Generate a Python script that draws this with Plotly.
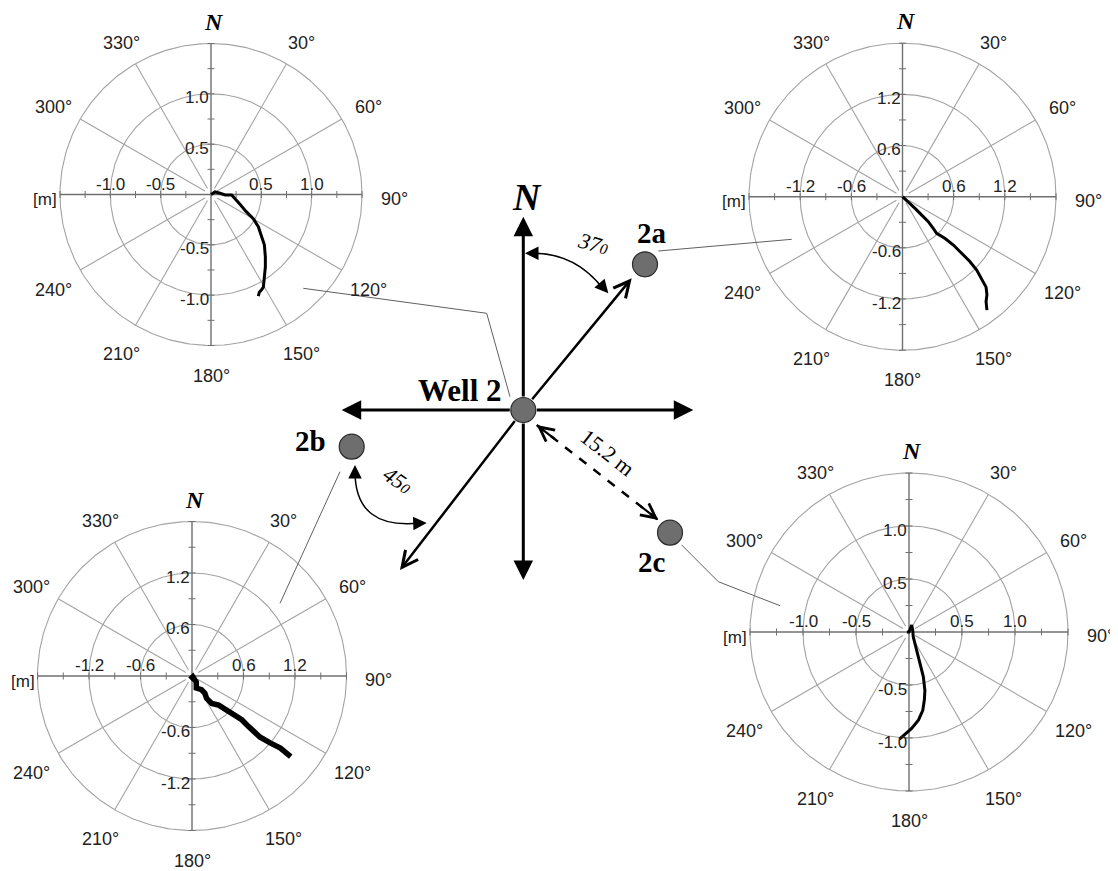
import numpy as np
import plotly.graph_objects as go

# The page body has an 8px margin, so the figure is drawn 8px in from the window edge.
OFF = 8
W, H = 1118 - OFF, 871 - OFF

# ---------------- data (metres; x = East, y = North) ----------------
well2_x = [0.00, 0.04, 0.09, 0.14, 0.205, 0.24, 0.29, 0.35, 0.42, 0.47, 0.50, 0.53, 0.54, 0.54, 0.53, 0.52, 0.50, 0.48, 0.47]
well2_y = [0.00, 0.025, 0.012, -0.005, -0.005, -0.04, -0.10, -0.17, -0.24, -0.32, -0.40, -0.50, -0.62, -0.72, -0.82, -0.92, -0.95, -0.97, -1.01]

well2a_x = [0.0, 0.07, 0.15, 0.22, 0.30, 0.36, 0.40, 0.50, 0.60, 0.69, 0.79, 0.87, 0.93, 0.98, 0.99, 0.98, 0.99]
well2a_y = [0.0, -0.06, -0.14, -0.21, -0.29, -0.37, -0.43, -0.49, -0.57, -0.66, -0.76, -0.86, -0.96, -1.06, -1.15, -1.23, -1.33]

well2b_x = [-0.02, 0.01, 0.05, 0.05, 0.11, 0.15, 0.17, 0.23, 0.31, 0.40, 0.48, 0.58, 0.64, 0.70, 0.79, 0.91, 1.03, 1.15]
well2b_y = [-0.04, -0.01, -0.07, -0.14, -0.16, -0.20, -0.26, -0.32, -0.34, -0.40, -0.45, -0.51, -0.57, -0.63, -0.71, -0.78, -0.84, -0.94]

well2c_x = [-0.02, 0.0, 0.025, 0.035, 0.04, 0.07, 0.10, 0.135, 0.15, 0.145, 0.13, 0.09, 0.025, -0.04, -0.09]
well2c_y = [0.0, 0.0, 0.065, 0.02, -0.045, -0.17, -0.30, -0.42, -0.55, -0.64, -0.74, -0.83, -0.91, -0.97, -1.01]

rings_a = [0.5, 1.0, 1.5]          # ring radii, charts Well 2 and 2c
ticks_a = [-1.0, -0.5, 0.5, 1.0]
ticklabels_a = ["-1.0", "-0.5", "0.5", "1.0"]
rings_b = [0.6, 1.2, 1.8]          # ring radii, charts 2a and 2b
ticks_b = [-1.2, -0.6, 0.6, 1.2]
ticklabels_b = ["-1.2", "-0.6", "0.6", "1.2"]

bearings = [0, 30, 60, 90, 120, 150, 180, 210, 240, 270, 300, 330]
bearing_labels = ["N", "30°", "60°", "90°", "120°", "150°", "180°", "210°", "240°", "[m]", "300°", "330°"]

# ---------------- layout geometry (window pixels) ----------------
charts = [
    dict(x=well2_x, y=well2_y, rings=rings_a, ticks=ticks_a, labels=ticklabels_a,
         cx=211, cy=194.5, rpx=151, box=(8, 430, 8, 400), lw=3),
    dict(x=well2a_x, y=well2a_y, rings=rings_b, ticks=ticks_b, labels=ticklabels_b,
         cx=902.5, cy=196.7, rpx=153.5, box=(690, 1118, 8, 400), lw=3),
    dict(x=well2b_x, y=well2b_y, rings=rings_b, ticks=ticks_b, labels=ticklabels_b,
         cx=192, cy=676, rpx=154.5, box=(8, 400, 470, 871), lw=5.5),
    dict(x=well2c_x, y=well2c_y, rings=rings_a, ticks=ticks_a, labels=ticklabels_a,
         cx=909, cy=632, rpx=159, box=(690, 1118, 440, 871), lw=3),
]

GRID = "#a3a3a3"
AXC = "#707070"
SANS = "Liberation Sans"
SERIF = "Liberation Serif"

fig = go.Figure()
layout = dict(width=W, height=H, margin=dict(l=0, r=0, t=0, b=0),
              paper_bgcolor="white", plot_bgcolor="rgba(0,0,0,0)",
              showlegend=False)
annotations = []
shapes = []

for i, c in enumerate(charts, start=1):
    R = c["rings"][-1]
    s = c["rpx"] / R
    bx0, bx1, by0, by1 = [v - OFF for v in c["box"]]
    cx, cy = c["cx"] - OFF, c["cy"] - OFF
    xr = [(bx0 - cx) / s, (bx1 - cx) / s]
    yr = [(cy - by1) / s, (cy - by0) / s]
    sfx = "" if i == 1 else str(i)
    layout["xaxis" + sfx] = dict(domain=[bx0 / W, bx1 / W], range=xr, visible=False,
                                 anchor="y" + sfx, fixedrange=True)
    layout["yaxis" + sfx] = dict(domain=[1 - by1 / H, 1 - by0 / H], range=yr, visible=False,
                                 anchor="x" + sfx, fixedrange=True)
    xa, ya = "x" + sfx, "y" + sfx

    th = np.linspace(0, 2 * np.pi, 361)
    rx, ry = [], []
    for r in c["rings"]:
        rx += list(r * np.sin(th)) + [None]
        ry += list(r * np.cos(th)) + [None]
    fig.add_trace(go.Scatter(x=rx, y=ry, mode="lines", line=dict(color=GRID, width=1.1),
                             xaxis=xa, yaxis=ya, hoverinfo="skip"))
    r0 = 7 / s
    sx, sy = [], []
    for b in bearings:
        if b % 90 == 0:
            continue
        a = np.radians(b)
        sx += [r0 * np.sin(a), R * np.sin(a), None]
        sy += [r0 * np.cos(a), R * np.cos(a), None]
    fig.add_trace(go.Scatter(x=sx, y=sy, mode="lines", line=dict(color=GRID, width=1.1),
                             xaxis=xa, yaxis=ya, hoverinfo="skip"))
    fig.add_trace(go.Scatter(x=[-R, R, None, 0, 0], y=[0, 0, None, -R, R], mode="lines",
                             line=dict(color=AXC, width=1.4), xaxis=xa, yaxis=ya, hoverinfo="skip"))
    step = c["rings"][0] / 2
    tv = [k * step for k in range(-6, 7) if k != 0]
    fig.add_trace(go.Scatter(x=tv, y=[0] * len(tv), mode="markers",
                             marker=dict(symbol="line-ns", size=5, line=dict(color=AXC, width=1)),
                             xaxis=xa, yaxis=ya, hoverinfo="skip"))
    fig.add_trace(go.Scatter(x=[0] * len(tv), y=tv, mode="markers",
                             marker=dict(symbol="line-ew", size=5, line=dict(color=AXC, width=1)),
                             xaxis=xa, yaxis=ya, hoverinfo="skip"))
    fig.add_trace(go.Scatter(x=c["x"], y=c["y"], mode="lines",
                             line=dict(color="black", width=c["lw"]),
                             xaxis=xa, yaxis=ya, hoverinfo="skip"))
    for v, t in zip(c["ticks"], c["labels"]):
        annotations.append(dict(x=v, y=0, xref=xa, yref=ya, text=t, showarrow=False,
                                xanchor="center", yanchor="bottom", yshift=-1,
                                font=dict(family=SANS, size=17, color="#222")))
        annotations.append(dict(x=0, y=v, xref=xa, yref=ya, text=t, showarrow=False,
                                xanchor="right", yanchor="middle", xshift=0, yshift=-4,
                                font=dict(family=SANS, size=17, color="#222")))
    for b, t in zip(bearings, bearing_labels):
        a = np.radians(b)
        if t == "N":
            rr = R + 25 / s
            annotations.append(dict(x=rr * np.sin(a), y=rr * np.cos(a), xref=xa, yref=ya,
                                    text="<b><i>N</i></b>", showarrow=False, xshift=3, yshift=-3,
                                    font=dict(family=SERIF, size=24, color="black")))
        elif t == "[m]":
            annotations.append(dict(x=-R, y=0, xref=xa, yref=ya, text=t, showarrow=False,
                                    xanchor="right", yanchor="middle", xshift=-1, yshift=-5,
                                    font=dict(family=SANS, size=17, color="#222")))
        else:
            rr = R + (26 + 6 * abs(np.sin(a))) / s
            annotations.append(dict(x=rr * np.sin(a), y=rr * np.cos(a), xref=xa, yref=ya,
                                    text=t, showarrow=False, yshift=-4,
                                    font=dict(family=SANS, size=18, color="#222")))

# ---------------- central diagram (pixel units, origin at Well 2) ----------------
OX, OY = 523.3, 410
layout["xaxis5"] = dict(domain=[0, 1], range=[OFF - OX, OFF + W - OX], visible=False,
                        anchor="y5", fixedrange=True)
layout["yaxis5"] = dict(domain=[0, 1], range=[OY - OFF - H, OY - OFF], visible=False,
                        anchor="x5", fixedrange=True)

leaders = [
    ([-220, -36.6, -13.3], [121.7, 96.7, 13.3]),
    ([135, 268.4], [159, 170.7]),
    ([-183.3, -243.3], [-61.7, -193.3]),
    ([158.4, 195, 256.7], [-135, -171.7, -195.7]),
]
for lx, ly in leaders:
    fig.add_trace(go.Scatter(x=lx, y=ly, mode="lines", line=dict(color="#606060", width=1),
                             xaxis="x5", yaxis="y5", hoverinfo="skip"))

shapes.append(dict(type="path", xref="x5", yref="y5", path="M 8,156.7 Q 52,157.5 80,121",
                   line=dict(color="black", width=1.5)))
shapes.append(dict(type="path", xref="x5", yref="y5", path="M -168.3,-62 Q -168,-120 -103,-113",
                   line=dict(color="black", width=1.5)))
shapes.append(dict(type="line", xref="x5", yref="y5", x0=13.4, y0=-15, x1=135, y1=-110,
                   line=dict(color="black", width=2.5, dash="dash")))

wx = [0, 121.7, -171.6, 146.7]
wy = [0, 145.7, -36.7, -122.7]
fig.add_trace(go.Scatter(x=wx, y=wy, mode="markers",
                         marker=dict(size=25, color="#6e6e6e", line=dict(color="#2a2a2a", width=1.2)),
                         xaxis="x5", yaxis="y5", hoverinfo="skip"))
fig.add_trace(go.Scatter(x=wx, y=wy, mode="markers",
                         marker=dict(size=25, color="rgba(0,0,0,0)", symbol="circle-open-dot",
                                     line=dict(color="rgba(255,255,255,0.35)", width=1)),
                         xaxis="x5", yaxis="y5", hoverinfo="skip"))

def arrow(tip, tail, head, width, size, standoff=0):
    annotations.append(dict(x=tip[0], y=tip[1], ax=tail[0], ay=tail[1], xref="x5", yref="y5",
                            axref="x5", ayref="y5", showarrow=True, arrowhead=head,
                            arrowwidth=width, arrowsize=size, arrowcolor="black",
                            startstandoff=standoff, text=""))

arrow((0, 193.3), (0, 0), 2, 3, 1.3, 12)
arrow((0, -170), (0, 0), 2, 3, 1.3, 12)
arrow((-181.6, 0), (0, 0), 2, 3, 1.3, 12)
arrow((170, 0), (0, 0), 2, 3, 1.3, 12)
arrow((108.4, 131.7), (0, 0), 5, 2.5, 1.25, 12)
arrow((-123.3, -160), (0, 0), 5, 2.5, 1.25, 12)
arrow((13.4, -15), (33.1, -30.4), 5, 2.2, 1.3)
arrow((135, -110), (115.3, -94.6), 5, 2.2, 1.3)
arrow((1.7, 156.7), (16, 156.7), 2, 1.5, 1.8)
arrow((85, 116.7), (75.9, 127.3), 2, 1.5, 1.8)
arrow((-168.3, -55), (-168.3, -69), 2, 1.5, 1.8)
arrow((-96.6, -113), (-111, -113.5), 2, 1.5, 1.8)

def label(x, y, text, size, angle=0, family=SERIF):
    annotations.append(dict(x=x, y=y, xref="x5", yref="y5", text=text, showarrow=False,
                            textangle=angle, font=dict(family=family, size=size, color="black")))

label(3.4, 213.3, "<b><i>N</i></b>", 38)
label(-63.3, 20, "<b>Well 2</b>", 31)
label(128.4, 176.7, "<b>2a</b>", 29)
label(-213.3, -30.7, "<b>2b</b>", 29)
label(129, -151.7, "<b>2c</b>", 29)
label(70, 166.7, "<i>37<span style='font-size:15px'>0</span></i>", 22, 15)
label(-125, -70, "<i>45<span style='font-size:15px'>0</span></i>", 22, 35)
label(84.2, -42.5, "15.2 m", 22, 38)

layout["annotations"] = annotations
layout["shapes"] = shapes
fig.update_layout(**layout)
fig.write_html("out.html")
